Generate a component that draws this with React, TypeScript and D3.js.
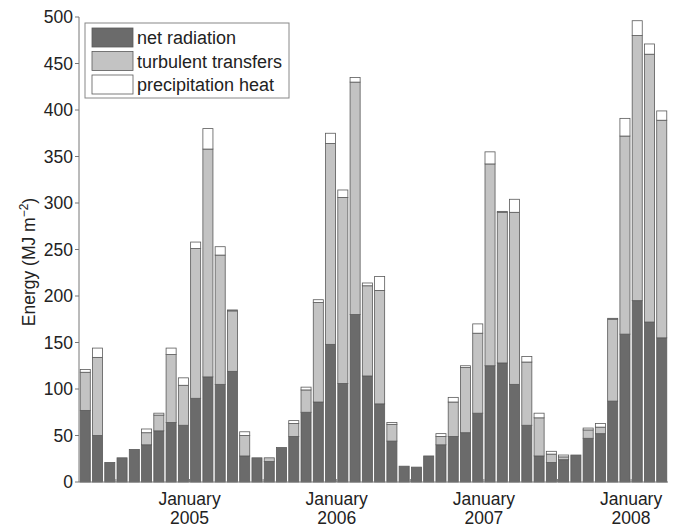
import React, { useEffect, useRef } from 'react';
import * as d3 from 'd3';

// monthly totals, April 2004 to March 2008 (MJ m-2)
const months = d3.timeMonth.range(new Date(2004, 3, 1), new Date(2008, 3, 1));

const netRadiation = [
  77, 50, 21, 26, 35, 40, 55, 64, 61, 90, 113, 105, 119, 28, 26, 22,
  37, 49, 75, 86, 148, 106, 180, 114, 84, 44, 17, 16, 28, 40, 49, 53,
  74, 125, 128, 105, 61, 28, 21, 24, 29, 47, 52, 87, 159, 195, 172, 155,
];
const turbulent = [
  41, 84, 0, 0, 0, 13, 17, 73, 43, 161, 245, 139, 65, 22, 0, 4,
  0, 14, 24, 107, 216, 200, 250, 97, 122, 18, 0, 0, 0, 9, 37, 70,
  86, 217, 162, 185, 68, 41, 9, 3, 0, 9, 7, 88, 213, 285, 288, 234,
];
const precipitation = [
  3, 10, 0, 0, 0, 4, 2, 7, 8, 7, 22, 9, 1, 4, 0, 0,
  0, 3, 3, 3, 11, 8, 5, 3, 15, 2, 0, 0, 0, 3, 5, 2,
  10, 13, 1, 14, 6, 5, 3, 2, 0, 2, 4, 1, 19, 16, 11, 10,
];

const seriesNames = ['net radiation', 'turbulent transfers', 'precipitation heat'];
const seriesColors = ['#6b6b6b', '#c3c3c3', '#ffffff'];
const yTicks = [0, 50, 100, 150, 200, 250, 300, 350, 400, 450, 500];

const W = 680;
const H = 528;
const margin = { top: 17, right: 12, bottom: 46, left: 79 };

const App: React.FC = () => {
  const svgRef = useRef<SVGSVGElement>(null);

  useEffect(() => {
    if (!svgRef.current) return;
    const svg = d3.select(svgRef.current);
    svg.selectAll('*').remove();

    const font = '"Liberation Sans", Arial, Helvetica, sans-serif';
    const x0 = margin.left;
    const x1 = W - margin.right;
    const y0 = H - margin.bottom;
    const y1 = margin.top;

    const x = d3.scaleBand<number>()
      .domain(months.map((_, i) => i))
      .range([x0, x1])
      .paddingInner(0.18)
      .paddingOuter(0.1);
    const y = d3.scaleLinear().domain([0, 500]).range([y0, y1]);

    const rows = months.map((m, i) => ({
      i,
      net: netRadiation[i],
      turb: turbulent[i],
      precip: precipitation[i],
    }));
    const stack = d3.stack<any>().keys(['net', 'turb', 'precip']);
    const layers = stack(rows);

    layers.forEach((layer, k) => {
      svg.append('g')
        .selectAll('rect')
        .data(layer.filter(d => d[1] - d[0] > 0))
        .enter()
        .append('rect')
        .attr('x', d => x(d.data.i)!)
        .attr('width', x.bandwidth())
        .attr('y', d => y(d[1]))
        .attr('height', d => y(d[0]) - y(d[1]))
        .attr('fill', seriesColors[k])
        .attr('stroke', '#5a5a5a')
        .attr('stroke-width', 0.8);
    });

    const axisColor = '#777';
    // y axis
    svg.append('line')
      .attr('x1', x0).attr('x2', x0).attr('y1', y1).attr('y2', y0)
      .attr('stroke', axisColor).attr('stroke-width', 1);
    yTicks.forEach(t => {
      svg.append('line')
        .attr('x1', x0 - 4).attr('x2', x0).attr('y1', y(t)).attr('y2', y(t))
        .attr('stroke', axisColor);
      svg.append('text')
        .attr('x', x0 - 6).attr('y', y(t))
        .attr('text-anchor', 'end').attr('dominant-baseline', 'central')
        .attr('font-family', font).attr('font-size', 17.5).attr('fill', '#222')
        .text(t);
    });

    // x axis
    svg.append('line')
      .attr('x1', x0).attr('x2', x1).attr('y1', y0).attr('y2', y0)
      .attr('stroke', axisColor).attr('stroke-width', 1);
    const gap = x.step() * x.paddingInner() / 2;
    months.forEach((m, i) => {
      if (m.getMonth() % 6 !== 0) return;
      const tx = x(i)! - gap;
      svg.append('line')
        .attr('x1', tx).attr('x2', tx).attr('y1', y0).attr('y2', y0 - 3)
        .attr('stroke', axisColor);
      if (m.getMonth() === 0) {
        const lab = svg.append('text')
          .attr('x', tx).attr('y', y0 + 23)
          .attr('text-anchor', 'middle')
          .attr('font-family', font).attr('font-size', 17.5).attr('fill', '#222');
        lab.append('tspan').attr('x', tx).text('January');
        lab.append('tspan').attr('x', tx).attr('dy', 19).text(d3.timeFormat('%Y')(m));
      }
    });

    // y label
    const yl = svg.append('text')
      .attr('transform', `translate(35,262) rotate(-90)`)
      .attr('text-anchor', 'middle')
      .attr('font-family', font).attr('font-size', 17.5).attr('fill', '#222');
    yl.append('tspan').text('Energy (MJ m');
    yl.append('tspan').attr('dy', -7).attr('font-size', 12).text('−2');
    yl.append('tspan').attr('dy', 7).text(')');

    // legend
    const lg = svg.append('g').attr('transform', 'translate(85,23)');
    lg.append('rect')
      .attr('width', 204).attr('height', 75)
      .attr('fill', '#fff').attr('stroke', '#888').attr('stroke-width', 1);
    seriesNames.forEach((name, k) => {
      const ry = 5 + k * 23.5;
      lg.append('rect')
        .attr('x', 7).attr('y', ry).attr('width', 41).attr('height', 19)
        .attr('fill', seriesColors[k]).attr('stroke', '#5a5a5a').attr('stroke-width', 0.8);
      lg.append('text')
        .attr('x', 52).attr('y', ry + 10)
        .attr('dominant-baseline', 'central')
        .attr('font-family', font).attr('font-size', 18).attr('fill', '#222')
        .text(name);
    });
  }, []);

  return (
    <svg ref={svgRef} width={W} height={H} style={{ position: 'absolute', left: 0, top: 0 }} />
  );
};

export default App;
